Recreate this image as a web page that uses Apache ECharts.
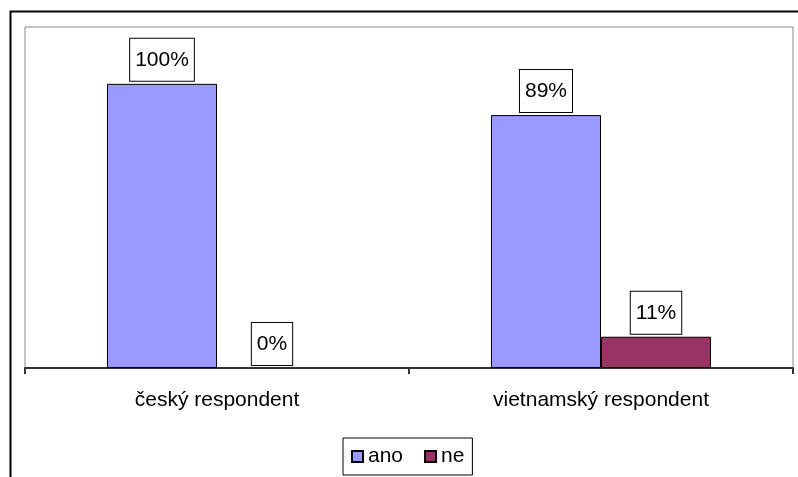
<!DOCTYPE html>
<html>
<head>
<meta charset="utf-8">
<script src="https://cdn.jsdelivr.net/npm/echarts@6/dist/echarts.min.js"></script>
<style>
  html, body { margin: 0; padding: 0; background: #fff; }
  #chart { width: 798px; height: 477px; }
</style>
</head>
<body>
<div id="chart"></div>
<script>
// Respondent groups and the share answering "ano" / "ne"
const categories = ['český respondent', 'vietnamský respondent'];
const anoValues = [100, 89];
const neValues = [0, 11];
const seriesNames = ['ano', 'ne'];

const FONT = 'Liberation Sans, Arial, sans-serif';

const boxLabel = {
  show: true,
  position: 'top',
  distance: 3,
  formatter: '{c}%',
  color: '#000',
  fontFamily: FONT,
  fontSize: 21,
  lineHeight: 22,
  backgroundColor: '#fff',
  borderColor: '#000',
  borderWidth: 1,
  padding: [10, 5, 10, 5]
};

// zero-height bars get no outline so no stray line sits on the axis
const toItems = values => values.map(v => v === 0 ? { value: v, itemStyle: { borderWidth: 0 } } : v);

const chart = echarts.init(document.getElementById('chart'), null, { renderer: 'canvas' });
chart.setOption({
  animation: false,
  backgroundColor: '#fff',
  graphic: [{
    type: 'rect',
    left: 8, top: 9,
    shape: { width: 800, height: 480 },
    style: { fill: 'none', stroke: '#000', lineWidth: 2 },
    silent: true,
    z: -1
  }],
  grid: {
    left: 25, top: 27, right: 5, bottom: 109,
    show: true,
    borderColor: '#888',
    borderWidth: 1
  },
  legend: {
    data: seriesNames,
    bottom: 2,
    left: 343,
    itemWidth: 11,
    itemHeight: 11,
    itemGap: 21,
    icon: 'rect',
    borderColor: '#000',
    borderWidth: 1,
    padding: [8, 8, 8, 8],
    textStyle: { fontFamily: FONT, fontSize: 21, color: '#000' }
  },
  xAxis: {
    type: 'category',
    data: categories,
    axisLine: { lineStyle: { color: '#333', width: 2 } },
    axisTick: { show: true, length: 6, lineStyle: { color: '#333', width: 2 } },
    axisLabel: { margin: 22, color: '#000', fontFamily: FONT, fontSize: 21 }
  },
  yAxis: {
    type: 'value',
    min: 0,
    max: 120,
    show: false,
    splitLine: { show: false }
  },
  series: [
    {
      name: seriesNames[0],
      type: 'bar',
      data: toItems(anoValues),
      barGap: '0%',
      barCategoryGap: '42.7%',
      itemStyle: { color: '#9999FF', borderColor: '#000', borderWidth: 1 },
      label: boxLabel
    },
    {
      name: seriesNames[1],
      type: 'bar',
      data: toItems(neValues),
      itemStyle: { color: '#993366', borderColor: '#000', borderWidth: 1 },
      label: boxLabel
    }
  ]
});
</script>
</body>
</html>
